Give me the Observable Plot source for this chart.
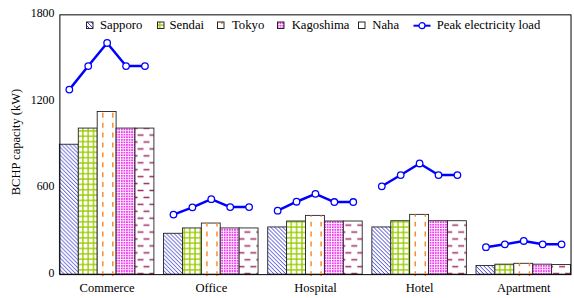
<!DOCTYPE html>
<html>
<head>
<meta charset="utf-8">
<script src="https://cdn.jsdelivr.net/npm/d3@7"></script>
<script src="https://cdn.jsdelivr.net/npm/@observablehq/plot@0.6"></script>
<style>
  html, body { margin: 0; padding: 0; background: #fff; overflow: hidden; }
  #wrap { position: relative; width: 574px; height: 298px; overflow: hidden; font-family: "Liberation Serif", "Times New Roman", serif; }
  #chart { position: absolute; left: 0; top: 0; }
  .legend-item { position: absolute; top: 17px; height: 17px; line-height: 17px; font-size: 12.7px; color: #000; white-space: nowrap; font-family: "Liberation Serif", "Times New Roman", serif; }
  .legend-item svg { position: absolute; top: 0; left: 0; }
  #ytitle { position: absolute; left: 16px; top: 142px; transform: translate(-50%, -50%) rotate(-90deg); font-size: 12.5px; white-space: nowrap; color: #000; font-family: "Liberation Serif", "Times New Roman", serif; }
</style>
</head>
<body>
<svg width="0" height="0" style="position:absolute">
  <defs>
    <pattern id="pSapporo" patternUnits="userSpaceOnUse" width="4" height="4">
      <rect width="4" height="4" fill="#fff"/>
      <path d="M-1,-1 L5,5 M-1,3 L1,5 M3,-1 L5,1" stroke="#3c3cd2" stroke-width="1"/>
    </pattern>
    <pattern id="pSendai" patternUnits="userSpaceOnUse" width="5.4" height="5.4">
      <rect width="5.4" height="5.4" fill="#fff"/>
      <path d="M2.7,0 V5.4 M0,2.7 H5.4" stroke="#99cc00" stroke-width="1.4"/>
    </pattern>
    <pattern id="pTokyo" patternUnits="userSpaceOnUse" width="9.6" height="10">
      <rect width="9.6" height="10" fill="#fff"/>
      <path d="M4.8,2 V7" stroke="#ff8a2a" stroke-width="1.5"/>
    </pattern>
    <pattern id="pKagoshima" patternUnits="userSpaceOnUse" width="2.6" height="2.6">
      <rect width="2.6" height="2.6" fill="#fff"/>
      <rect width="1.8" height="1.8" fill="#f03cf0"/>
    </pattern>
    <pattern id="pNaha" patternUnits="userSpaceOnUse" width="12" height="14">
      <rect width="12" height="14" fill="#fff"/>
      <path d="M1,3.5 H7 M7,10.5 H13 M-5,10.5 H1" stroke="#9c2c64" stroke-width="1.4"/>
    </pattern>
  </defs>
</svg>
<div id="wrap">
  <div id="chart"></div>
  <div id="ytitle">BCHP capacity (kW)</div>
</div>
<script>
// ---- Data ----
const groups = ["Commerce", "Office", "Hospital", "Hotel", "Apartment"];
const cities = ["Sapporo", "Sendai", "Tokyo", "Kagoshima", "Naha"];

// BCHP capacity (kW) per building type, for each city
const sapporo   = [900, 283, 327, 327, 60];
const sendai    = [1012, 320, 368, 370, 69];
const tokyo     = [1127, 354, 407, 414, 75];
const kagoshima = [1012, 320, 368, 370, 69];
const naha      = [1012, 320, 368, 370, 67];

// Peak electricity load (kW) per building type, across cities
const commercePeak  = [1282, 1445, 1605, 1445, 1445];
const officePeak    = [416, 466, 523, 468, 468];
const hospitalPeak  = [443, 505, 560, 503, 503];
const hotelPeak     = [612, 690, 770, 690, 690];
const apartmentPeak = [190, 210, 233, 210, 210];

const yTicks = [0, 600, 1200, 1800];
const peakLabel = "Peak electricity load";

// ---- Build table ----
const cityValues = [sapporo, sendai, tokyo, kagoshima, naha];
const peakValues = [commercePeak, officePeak, hospitalPeak, hotelPeak, apartmentPeak];
const patternIds = ["pSapporo", "pSendai", "pTokyo", "pKagoshima", "pNaha"];
const TOKYO = 2;
const GAP = 0.51; // gap between groups, in bar widths
const STEP = cities.length + GAP;

const rows = [];
groups.forEach((g, gi) => cities.forEach((c, ci) => {
  rows.push({group: g, city: c, ci, x1: gi * STEP + ci, x2: gi * STEP + ci + 1,
             value: cityValues[ci][gi], peak: peakValues[gi][ci]});
}));
const tokyoRows = rows.filter(d => d.ci === TOKYO);

const W = 580;
const chart = Plot.plot({
  width: W,
  height: 298,
  marginLeft: 60,
  marginRight: W - 576.5,
  marginTop: 14.5,
  marginBottom: 21,
  style: {fontFamily: '"Liberation Serif", "Times New Roman", serif', fontSize: "12.7px", color: "#000", background: "transparent"},
  x: {domain: [0, groups.length * STEP - GAP]},
  y: {domain: [0, 1800]},
  marks: [
    ...cities.map((c, ci) => Plot.rectY(rows.filter(d => d.ci === ci), {
      x1: "x1", x2: "x2", y: "value",
      fill: ci === TOKYO ? "#fff" : `url(#${patternIds[ci]})`, stroke: "#222", strokeWidth: 0.9
    })),
    ...[0.27, 0.8].map(off => Plot.ruleX(tokyoRows, {
      x: d => d.x1 + off, y1: 0, y2: "value", insetTop: 2,
      stroke: "#ff8a2a", strokeWidth: 1.5, strokeDasharray: "5,5"
    })),
    Plot.line(rows, {x: d => d.x1 + 0.5, y: "peak", z: "group", stroke: "#0000ff", strokeWidth: 2.5}),
    Plot.dot(rows, {x: d => d.x1 + 0.5, y: "peak", r: 3.3, fill: "#fff", stroke: "#0000ff", strokeWidth: 1.3}),
    Plot.frame({stroke: "#000", strokeWidth: 1}),
    Plot.axisY({ticks: yTicks, tickFormat: d => String(d), tickSize: 0, tickPadding: 5.5, label: null, fontSize: "12px", dy: -1.5}),
    Plot.axisX({ticks: groups.map((g, gi) => gi * STEP + cities.length / 2),
                tickFormat: v => groups[Math.round((v - cities.length / 2) / STEP)],
                tickSize: 0, tickPadding: 9, label: null})
  ]
});
document.getElementById("chart").appendChild(chart);

// ---- Legend (inside plot area) ----
const wrap = document.getElementById("wrap");
const legendPos = [
  {icon: 86, text: 100},
  {icon: 156.5, text: 169.5},
  {icon: 217, text: 232},
  {icon: 277, text: 291.7},
  {icon: 357.5, text: 372.3}
];
cities.forEach((c, ci) => {
  const item = document.createElement("div");
  item.className = "legend-item";
  item.style.left = legendPos[ci].icon + "px";
  item.innerHTML = `<svg width="8" height="17"><rect x="0.5" y="5" width="6.5" height="6.5" fill="url(#${patternIds[ci]})" stroke="#111" stroke-width="0.9"/></svg>` +
    `<span style="position:absolute;left:${legendPos[ci].text - legendPos[ci].icon}px">${c}</span>`;
  wrap.appendChild(item);
});
const li = document.createElement("div");
li.className = "legend-item";
li.style.left = "412.5px";
li.innerHTML = `<svg width="20" height="17"><line x1="0.5" y1="8.7" x2="17.5" y2="8.7" stroke="#0000ff" stroke-width="2"/><circle cx="9" cy="8.7" r="3" fill="#fff" stroke="#0000ff" stroke-width="1.2"/></svg>` +
  `<span style="position:absolute;left:24.2px">${peakLabel}</span>`;
wrap.appendChild(li);
</script>
</body>
</html>
